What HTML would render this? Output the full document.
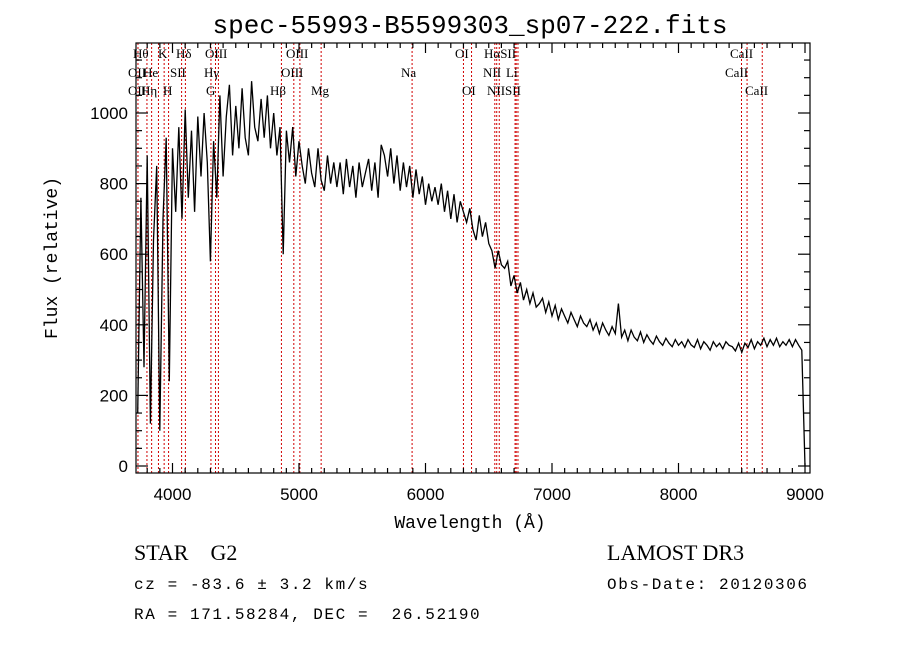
<!DOCTYPE html>
<html><head><meta charset="utf-8"><style>
body{margin:0;background:#fff;}
svg{display:block;}
text{white-space:pre;}
</style></head><body>
<svg id="chart" width="900" height="649" xmlns="http://www.w3.org/2000/svg" font-family="Liberation Sans, sans-serif">
<rect width="900" height="649" fill="#fff"/>
<text x="470" y="33" font-size="26" text-anchor="middle" font-family="Liberation Mono, monospace">spec-55993-B5599303_sp07-222.fits</text>
<g id="lines"></g>
<g id="labels" font-family="Liberation Serif, serif" font-size="13"></g>
<path id="spec" fill="none" stroke="#000" stroke-width="1.3"/>
<g id="axes" stroke="#000" stroke-width="1.2"></g>
<g id="ticklabels" font-size="17"></g>
<text x="470" y="528" font-size="18" text-anchor="middle" font-family="Liberation Mono, monospace">Wavelength (Å)</text>
<text transform="translate(57,258) rotate(-90)" font-size="18" text-anchor="middle" font-family="Liberation Mono, monospace">Flux (relative)</text>
<text x="134" y="560" font-size="22" font-family="Liberation Serif, serif" xml:space="preserve">STAR    G2</text>
<text x="134" y="589" font-size="16" letter-spacing="1.6" font-family="Liberation Mono, monospace" xml:space="preserve">cz = -83.6 ± 3.2 km/s</text>
<text x="134" y="619" font-size="16" letter-spacing="1.6" font-family="Liberation Mono, monospace" xml:space="preserve">RA = 171.58284, DEC =  26.52190</text>
<text x="607" y="560" font-size="22" font-family="Liberation Serif, serif">LAMOST DR3</text>
<text x="607" y="589" font-size="16" letter-spacing="1.6" font-family="Liberation Mono, monospace">Obs-Date: 20120306</text>
</svg>
<script>
const wlStart = 3725;
const wlStep = 25;
const flux = [150,760,280,880,120,640,850,100,700,930,240,
900,720,960,700,1010,760,950,720,990,820,1000,860,
580,920,760,1050,820,990,1080,880,
1020,900,1070,930,880,1090,960,920,1040,930,1050,900,1000,880,960,600,
950,860,960,820,920,850,800,900,830,790,900,810,780,880,800,860,
790,860,770,870,790,850,760,860,790,830,870,780,860,760,910,880,
820,900,800,880,780,860,790,850,760,840,770,820,740,800,750,790,
740,800,720,780,700,770,690,750,720,690,730,670,640,710,650,690,
630,610,560,610,570,560,580,510,540,490,520,470,500,460,490,450,
460,475,435,465,425,455,415,445,425,405,435,415,395,425,405,395,
415,385,405,375,405,385,370,395,375,460,365,385,355,385,365,355,
380,350,372,356,345,368,352,342,362,348,338,358,342,352,336,358,
343,336,358,332,352,342,328,352,338,348,332,352,342,338,326,348,
322,348,336,358,332,352,342,362,338,358,342,362,338,352,342,358,
338,358,342,328,0];
const lineWaves = [3727,3798,3835,3889,3934,3969,4072,4102,4304,4340,4363,4861,4959,5007,5175,5894,6300,6364,6548,6563,6583,6708,6717,6731,8498,8542,8662];
const xTicks = [4000,5000,6000,7000,8000,9000];
const yTicks = [0,200,400,600,800,1000];
const NS="http://www.w3.org/2000/svg";
const L=136,R=810,T=43,B=473;
const xs=w=>172.5+(w-4000)*0.1265;
const ys=f=>466-f*0.353;
function el(tag,attrs,parent){const e=document.createElementNS(NS,tag);for(const k in attrs)e.setAttribute(k,attrs[k]);parent.appendChild(e);return e;}
const lg=document.getElementById('lines');
lineWaves.forEach(w=>{
  const l=el('line',{x1:xs(w),x2:xs(w),y1:T,y2:B,stroke:'#d00000','stroke-width':1,'stroke-dasharray':'2,2'},lg);
  
  
});
const lab=[["Hθ",133,58],["K",158,58],["Hδ",176,58],["OIII",205,58],["OIII",286,58],["OI",455,58],["HαSII",484,58],["CaII",730,58],
["OII",128,77],["He",143,77],["SII",170,77],["Hγ",204,77],["OIII",281,77],["Na",401,77],["NII",483,77],["Li",506,77],["CaII",725,77],
["OII",128,95],["Hη",141,95],["H",163,95],["G",206,95],["Hβ",270,95],["Mg",311,95],["OI",462,95],["NIISII",487,95],["CaII",745,95]];
const lbg=document.getElementById('labels');
lab.forEach(a=>{const t=el('text',{x:a[1],y:a[2]},lbg);t.textContent=a[0];
  
  });
let d='';
flux.forEach((f,i)=>{const w=wlStart+i*wlStep;d+=(i?'L':'M')+xs(w).toFixed(1)+','+ys(f).toFixed(1);});
document.getElementById('spec').setAttribute('d',d);
const ax=document.getElementById('axes');
el('rect',{x:L,y:T,width:R-L,height:B-T,fill:'none'},ax);
for(let w=3800;w<=9000;w+=100){const x=xs(w);const mj=w%1000===0;const h=mj?10:5;
  el('line',{x1:x,x2:x,y1:B,y2:B-h},ax);el('line',{x1:x,x2:x,y1:T,y2:T+h},ax);}
for(let f=0;f<=1200;f+=50){const y=ys(f);if(y<T)continue;const mj=f%200===0;const h=mj?12:6;
  el('line',{x1:L,x2:L+h,y1:y,y2:y},ax);el('line',{x1:R,x2:R-h,y1:y,y2:y},ax);}
const tl=document.getElementById('ticklabels');
xTicks.forEach(v=>{const t=el('text',{x:xs(v),y:500,'text-anchor':'middle'},tl);t.textContent=v;
  
  });
yTicks.forEach(v=>{const t=el('text',{x:128,y:ys(v)+6,'text-anchor':'end'},tl);t.textContent=v;
  
  });
</script>
</body></html>
